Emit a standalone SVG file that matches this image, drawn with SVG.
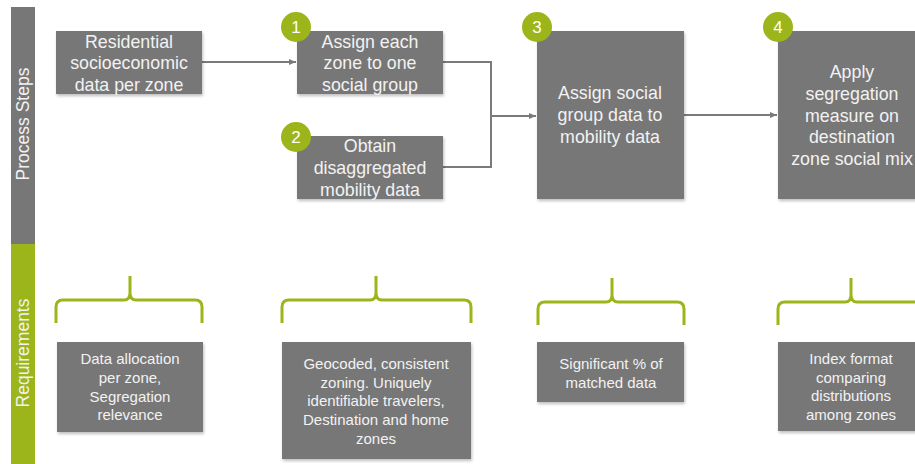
<svg xmlns="http://www.w3.org/2000/svg" width="915" height="464" viewBox="0 0 915 464">
<style>
.box{fill:#777777;filter:url(#sh)}
.t{font-family:"Liberation Sans",Arial,sans-serif;font-size:17.8px;fill:#f2f2f2;text-anchor:middle}
.rt{font-family:"Liberation Sans",Arial,sans-serif;font-size:15px;fill:#f2f2f2;text-anchor:middle}
.num{font-family:"Liberation Sans",Arial,sans-serif;font-size:17px;fill:#ffffff;text-anchor:middle}
.badge{fill:#9bb51a}
.brace{fill:none;stroke:#9bb51a;stroke-width:3}
.conn{fill:none;stroke:#7a7a7a;stroke-width:2}
.side{font-family:"Liberation Sans",Arial,sans-serif;font-size:17.5px;fill:#f2f2f2;text-anchor:middle}
</style>
<defs>
<filter id="sh" x="-10%" y="-10%" width="120%" height="130%">
<feDropShadow dx="1" dy="2" stdDeviation="1.5" flood-color="#000" flood-opacity="0.25"/>
</filter>
<marker id="arr" markerWidth="8" markerHeight="8" refX="7" refY="4" orient="auto" markerUnits="userSpaceOnUse">
<path d="M0,1 L7,4 L0,7 Z" fill="#7a7a7a"/>
</marker>
</defs>
<rect width="915" height="464" fill="#ffffff"/>

<g id="side-process">
<rect x="11" y="7" width="24" height="237" fill="#777777"/>
<text class="side" transform="translate(29,124) rotate(-90)">Process Steps</text>
</g>
<g id="side-requirements">
<rect x="11" y="244" width="24" height="220" fill="#9bb51a"/>
<text class="side" transform="translate(29,353) rotate(-90)">Requirements</text>
</g>

<g id="connectors">
<path class="conn" d="M202,62 H296" marker-end="url(#arr)"/>
<path class="conn" d="M443,62 H491 V167 H443"/>
<path class="conn" d="M491,116 H536" marker-end="url(#arr)"/>
<path class="conn" d="M684,115 H777" marker-end="url(#arr)"/>
</g>

<g id="residential">
<rect class="box" x="56" y="31" width="146" height="63"/>
<text class="t" x="129" y="48">Residential</text>
<text class="t" x="129" y="69">socioeconomic</text>
<text class="t" x="129" y="91">data per zone</text>
</g>

<g id="step1">
<rect class="box" x="297" y="31" width="146" height="63"/>
<text class="t" x="370" y="48">Assign each</text>
<text class="t" x="370" y="69">zone to one</text>
<text class="t" x="370" y="91">social group</text>
<circle class="badge" cx="296" cy="27" r="15"/>
<text class="num" x="296" y="33">1</text>
</g>

<g id="step2">
<rect class="box" x="297" y="136" width="146" height="63"/>
<text class="t" x="370" y="152">Obtain</text>
<text class="t" x="370" y="174">disaggregated</text>
<text class="t" x="370" y="196">mobility data</text>
<circle class="badge" cx="296" cy="137" r="15"/>
<text class="num" x="296" y="143">2</text>
</g>

<g id="step3">
<rect class="box" x="537" y="31" width="147" height="168"/>
<text class="t" x="610" y="99">Assign social</text>
<text class="t" x="610" y="121">group data to</text>
<text class="t" x="610" y="143">mobility data</text>
<circle class="badge" cx="537" cy="27" r="15"/>
<text class="num" x="537" y="33">3</text>
</g>

<g id="step4">
<rect class="box" x="778" y="31" width="148" height="168"/>
<text class="t" x="852" y="78">Apply</text>
<text class="t" x="852" y="100">segregation</text>
<text class="t" x="852" y="122">measure on</text>
<text class="t" x="852" y="143">destination</text>
<text class="t" x="852" y="165">zone social mix</text>
<circle class="badge" cx="778" cy="27" r="15"/>
<text class="num" x="778" y="33">4</text>
</g>

<g id="brace1">
<path class="brace" d="M56,323 V307 Q56,300 63,300 H124 Q130,300 130,293 V276 M130,293 Q130,300 136,300 H195 Q202,300 202,307 V323"/>
</g>
<g id="brace2">
<path class="brace" d="M282,323 V307 Q282,300 289,300 H370 Q376,300 376,293 V276 M376,293 Q376,300 382,300 H464 Q471,300 471,307 V323"/>
</g>
<g id="brace3">
<path class="brace" d="M538,325 V309 Q538,302 545,302 H606 Q612,302 612,295 V278 M612,295 Q612,302 618,302 H677 Q684,302 684,309 V325"/>
</g>
<g id="brace4">
<path class="brace" d="M778,325 V309 Q778,302 785,302 H845 Q851,302 851,295 V278 M851,295 Q851,302 857,302 H918"/>
</g>

<g id="req1">
<rect class="box" x="57" y="342" width="146" height="90"/>
<text class="rt" x="130" y="364">Data allocation</text>
<text class="rt" x="130" y="383">per zone,</text>
<text class="rt" x="130" y="402">Segregation</text>
<text class="rt" x="130" y="420">relevance</text>
</g>
<g id="req2">
<rect class="box" x="282" y="342" width="189" height="117"/>
<text class="rt" x="376" y="369">Geocoded, consistent</text>
<text class="rt" x="376" y="388">zoning. Uniquely</text>
<text class="rt" x="376" y="406">identifiable travelers,</text>
<text class="rt" x="376" y="425">Destination and home</text>
<text class="rt" x="376" y="444">zones</text>
</g>
<g id="req3">
<rect class="box" x="537" y="342" width="147" height="60"/>
<text class="rt" x="611" y="369">Significant % of</text>
<text class="rt" x="611" y="388">matched data</text>
</g>
<g id="req4">
<rect class="box" x="778" y="342" width="148" height="89"/>
<text class="rt" x="851" y="364">Index format</text>
<text class="rt" x="851" y="383">comparing</text>
<text class="rt" x="851" y="401">distributions</text>
<text class="rt" x="851" y="420">among zones</text>
</g>
</svg>
